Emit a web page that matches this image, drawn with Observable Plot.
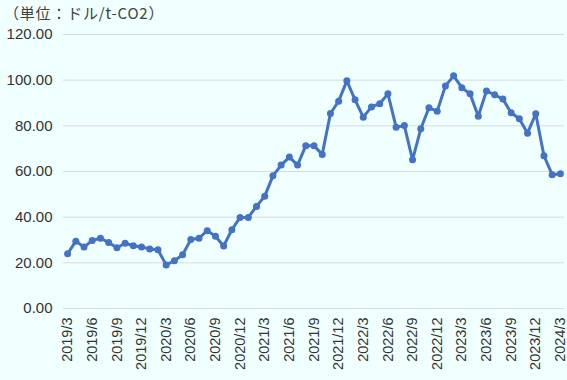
<!DOCTYPE html>
<html><head><meta charset="utf-8">
<script src="https://cdn.jsdelivr.net/npm/d3@7"></script>
<script src="https://cdn.jsdelivr.net/npm/@observablehq/plot@0.6"></script>
<style>
body{margin:0;background:#F0FFFF;}
#c{position:relative;width:567px;height:380px;background:#F0FFFF;}
#t{position:absolute;left:4px;top:2px;font-family:"Noto Sans CJK JP";font-size:15px;letter-spacing:0.8px;color:#404040;white-space:nowrap}
</style></head><body><div id="c"><div id="t">（単位：ドル/t-CO2）</div></div>
<script>
const months = [
 "2019/3","2019/4","2019/5","2019/6","2019/7","2019/8","2019/9","2019/10","2019/11","2019/12",
 "2020/1","2020/2","2020/3","2020/4","2020/5","2020/6","2020/7","2020/8","2020/9","2020/10","2020/11","2020/12",
 "2021/1","2021/2","2021/3","2021/4","2021/5","2021/6","2021/7","2021/8","2021/9","2021/10","2021/11","2021/12",
 "2022/1","2022/2","2022/3","2022/4","2022/5","2022/6","2022/7","2022/8","2022/9","2022/10","2022/11","2022/12",
 "2023/1","2023/2","2023/3","2023/4","2023/5","2023/6","2023/7","2023/8","2023/9","2023/10","2023/11","2023/12",
 "2024/1","2024/2","2024/3"];
const values = [
 24.0,29.5,26.9,29.8,30.8,28.9,26.6,28.6,27.5,26.9,
 26.1,25.7,19.1,20.9,23.5,30.2,30.8,34.1,31.6,27.4,34.5,39.9,
 39.9,44.7,49.2,58.1,62.8,66.3,62.8,71.3,71.3,67.5,85.4,90.8,
 99.7,91.4,83.8,88.3,89.7,94.0,79.4,80.1,65.1,78.7,87.9,86.4,
 97.5,101.9,96.7,94.0,84.2,95.3,93.6,91.7,85.7,83.1,76.8,85.3,
 66.9,58.6,59.0];
const xTickLabels = ["2019/3","2019/6","2019/9","2019/12","2020/3","2020/6","2020/9","2020/12",
 "2021/3","2021/6","2021/9","2021/12","2022/3","2022/6","2022/9","2022/12",
 "2023/3","2023/6","2023/9","2023/12","2024/3"];
const yTicks = [0,20,40,60,80,100,120];

const data = months.map((m,i)=>({i, m, v: values[i]}));
const xTickIdx = xTickLabels.map(l => months.indexOf(l));
const color = "#4472C4";
const chart = Plot.plot({
  width:567, height:380,
  marginTop:34, marginBottom:72, marginLeft:63, marginRight:3,
  style:{background:"transparent", fontFamily:"Liberation Sans, Arial, sans-serif", fontSize:"14px", color:"#333"},
  x:{type:"linear", domain:[-0.5, months.length-0.5], label:null},
  y:{domain:[0,120], label:null},
  marks:[
    Plot.gridY(yTicks,{stroke:"#d9d9d9", strokeOpacity:1, strokeWidth:1}),
    Plot.axisY(yTicks,{tickSize:0, tickPadding:11, tickFormat:d=>d.toFixed(2), fontSize:15, label:null}),
    Plot.axisX(xTickIdx,{tickSize:0, tickRotate:-90, tickPadding:9, fontSize:14.5, tickFormat:i=>months[i], label:null}),
    Plot.line(data,{x:"i", y:"v", stroke:color, strokeWidth:3}),
    Plot.dot(data,{x:"i", y:"v", fill:color, r:3.5})
  ]
});
document.getElementById("c").prepend(chart);
chart.style.position="absolute"; chart.style.left="0"; chart.style.top="0";
</script>
</body></html>
